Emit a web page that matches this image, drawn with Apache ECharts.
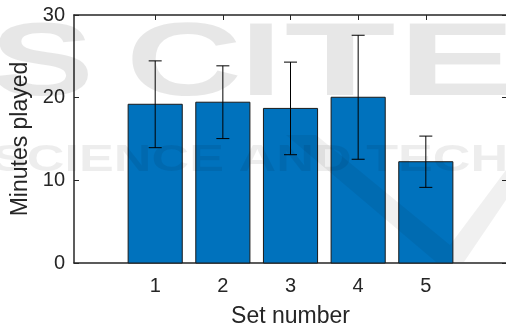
<!DOCTYPE html>
<html>
<head>
<meta charset="utf-8">
<script src="https://cdn.jsdelivr.net/npm/echarts@6/dist/echarts.min.js"></script>
<style>
  html, body { margin: 0; padding: 0; background: #ffffff; }
  #chart { width: 506px; height: 327px; }
</style>
</head>
<body>
<div id="chart"></div>
<script>
// Minutes played per set: mean and standard deviation
const setNumbers = [1, 2, 3, 4, 5];
const meanMinutes = [19.2, 19.45, 18.7, 20.05, 12.25];
const sdMinutes = [5.25, 4.4, 5.6, 7.5, 3.1];
const yTickValues = [0, 10, 20, 30];

const INK = '#262626';
const FONT = '"Liberation Sans", Arial, Helvetica, sans-serif';
const BAR_FILL = '#0072BD';

const barData = setNumbers.map((s, i) => [s, meanMinutes[i]]);
const errData = setNumbers.map((s, i) => [s, meanMinutes[i] - sdMinutes[i], meanMinutes[i] + sdMinutes[i]]);

const chart = echarts.init(document.getElementById('chart'), null, { renderer: 'canvas' });

const axisLine = { show: true, onZero: false, lineStyle: { color: INK, width: 1.5 } };
const tickStyle = { color: INK, width: 1 };

// faint publisher watermark laid over the plot
const wmFill = 'rgba(0,0,0,0.095)';
const wmFillLight = 'rgba(0,0,0,0.07)';
function bigLetter(ch, cx, sx) {
  return {
    type: 'text', silent: true, z: 100,
    x: cx, y: 66, scaleX: sx, scaleY: 1,
    style: { text: ch, fill: wmFill, font: 'bold 104px ' + FONT, align: 'center', verticalAlign: 'middle' }
  };
}

const option = {
  animation: false,
  backgroundColor: '#ffffff',
  grid: { left: 74, top: 15, right: -1, bottom: 64, containLabel: false, outerBoundsMode: 'none' },
  xAxis: [
    {
      type: 'value', position: 'bottom', min: -0.2, max: 6.2,
      axisLine: axisLine,
      axisTick: { show: true, inside: true, length: 5, customValues: setNumbers, lineStyle: tickStyle },
      axisLabel: { customValues: setNumbers, color: INK, fontSize: 20, fontFamily: FONT, margin: 13 },
      splitLine: { show: false },
      name: 'Set number', nameLocation: 'middle', nameGap: 42,
      nameTextStyle: { color: INK, fontSize: 23, fontFamily: FONT }
    },
    {
      type: 'value', position: 'top', min: -0.2, max: 6.2,
      axisLine: axisLine,
      axisTick: { show: true, inside: true, length: 5, customValues: setNumbers, lineStyle: tickStyle },
      axisLabel: { show: false },
      splitLine: { show: false }
    }
  ],
  yAxis: [
    {
      type: 'value', position: 'left', min: 0, max: 30, interval: 10,
      axisLine: axisLine,
      axisTick: { show: true, inside: true, length: 5, customValues: yTickValues, lineStyle: tickStyle },
      axisLabel: { customValues: yTickValues, color: INK, fontSize: 20, fontFamily: FONT, margin: 9 },
      splitLine: { show: false },
      name: 'Minutes played', nameLocation: 'middle', nameGap: 39,
      nameTextStyle: { color: INK, fontSize: 23, fontFamily: FONT }
    },
    {
      type: 'value', position: 'right', min: 0, max: 30, interval: 10,
      axisLine: axisLine,
      axisTick: { show: true, inside: true, length: 5, lineStyle: tickStyle },
      axisLabel: { show: false },
      splitLine: { show: false }
    }
  ],
  series: [
    {
      type: 'custom', name: 'Mean',
      xAxisIndex: 0, yAxisIndex: 0,
      data: barData,
      encode: { x: 0, y: 1 },
      renderItem: function (params, api) {
        const x = api.value(0), y = api.value(1);
        const top = api.coord([x, y]);
        const base = api.coord([x, 0]);
        const w = api.size([0.8, 0])[0];
        return {
          type: 'rect',
          shape: { x: top[0] - w / 2, y: top[1], width: w, height: base[1] - top[1] },
          style: { fill: BAR_FILL, stroke: '#1a1a1a', lineWidth: 1 }
        };
      }
    },
    {
      type: 'custom', name: 'SD',
      xAxisIndex: 0, yAxisIndex: 0,
      data: errData,
      encode: { x: 0, y: [1, 2] },
      renderItem: function (params, api) {
        const x = api.value(0);
        const lo = api.coord([x, api.value(1)]);
        const hi = api.coord([x, api.value(2)]);
        const cap = 6.5;
        const st = { stroke: '#000000', lineWidth: 1 };
        return {
          type: 'group',
          children: [
            { type: 'line', shape: { x1: hi[0], y1: hi[1], x2: lo[0], y2: lo[1] }, style: st },
            { type: 'line', shape: { x1: hi[0] - cap, y1: hi[1], x2: hi[0] + cap, y2: hi[1] }, style: st },
            { type: 'line', shape: { x1: lo[0] - cap, y1: lo[1], x2: lo[0] + cap, y2: lo[1] }, style: st }
          ]
        };
      }
    }
  ],
  graphic: [
    bigLetter('S', 42, 1.5),
    bigLetter('C', 184, 1.55),
    bigLetter('I', 261, 1.45),
    bigLetter('T', 340, 1.75),
    bigLetter('E', 457, 1.7),
    {
      type: 'text', silent: true, z: 100,
      x: -8, y: 161, scaleX: 1.45, scaleY: 1,
      style: { text: 'SCIENCE AND TECHNOLOGY', fill: wmFillLight, font: 'bold 36px ' + FONT, align: 'left', verticalAlign: 'middle' }
    },
    {
      type: 'polygon', silent: true, z: 100,
      shape: { points: [[286, 135], [316, 135], [450, 245], [506, 170], [506, 200], [464, 262], [436, 262]] },
      style: { fill: 'rgba(0,0,0,0.06)' }
    }
  ]
};

chart.setOption(option);
</script>
</body>
</html>
